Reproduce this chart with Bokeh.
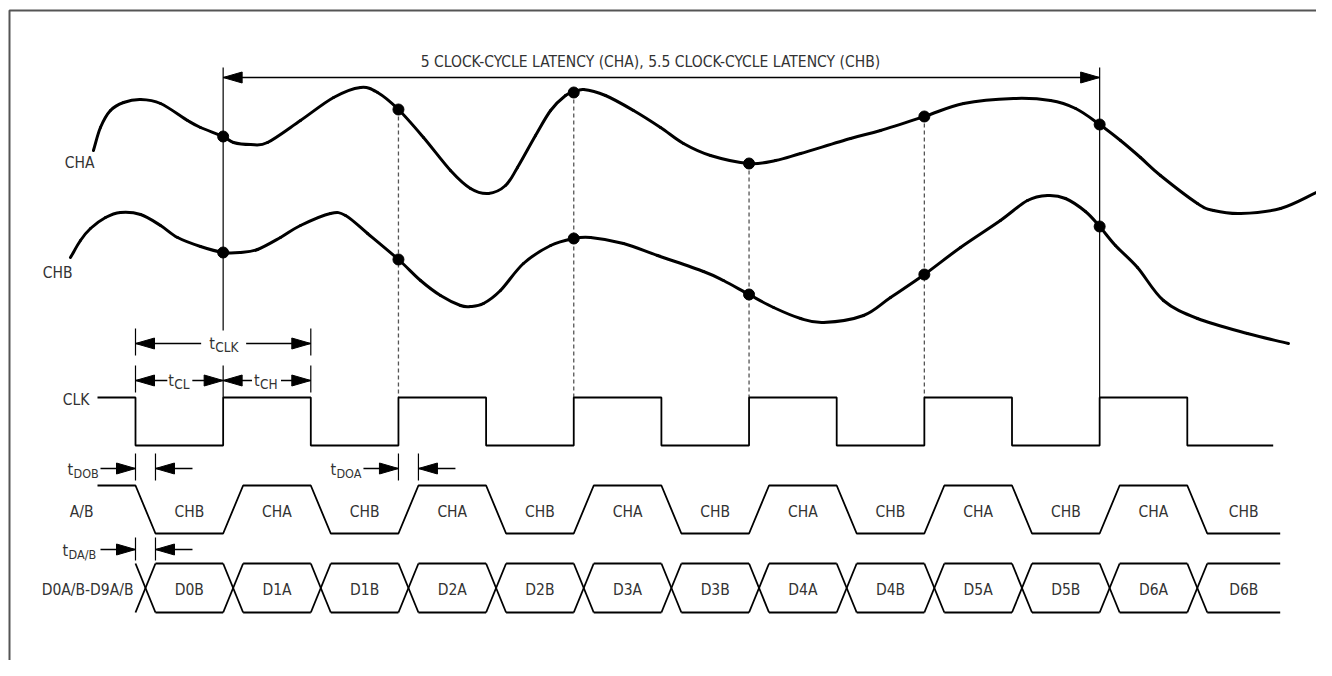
import numpy as np
from bokeh.plotting import figure
from bokeh.models import Range1d
from bokeh.core.properties import value
from bokeh.embed import file_html
from bokeh.resources import INLINE

# ---------------- data (time in clock cycles, t = 0 at first CLK falling edge) ----------------
CLK_EDGES = [0.0, 0.5, 1.0, 1.5, 2.0, 2.5, 3.0, 3.5, 4.0, 4.5, 5.0, 5.5, 6.0]
CLK_LEVELS = [0, 1, 0, 1, 0, 1, 0, 1, 0, 1, 0, 1, 0]          # level after each edge
SAMPLE_TIMES = [0.5, 1.5, 2.5, 3.5, 4.5, 5.5]                   # CLK rising edges (sampling instants)
AB_STATES = ["CHB", "CHA", "CHB", "CHA", "CHB", "CHA", "CHB", "CHA", "CHB", "CHA", "CHB", "CHA", "CHB"]
D_WORDS = ["D0B", "D1A", "D1B", "D2A", "D2B", "D3A", "D3B", "D4A", "D4B", "D5A", "D5B", "D6A", "D6B"]
T_DO = 0.114                                                    # output delay / transition time (cycles)
LATENCY_TEXT = "5 CLOCK-CYCLE LATENCY (CHA), 5.5 CLOCK-CYCLE LATENCY (CHB)"

CHA_T = [-0.240, -0.200, -0.143, -0.068, 0.029, 0.143, 0.297, 0.371, 0.5, 0.559,
         0.656, 0.753, 0.941, 1.130, 1.284, 1.381, 1.5, 1.643, 1.797, 1.911,
         2.014, 2.111, 2.179, 2.282, 2.368, 2.453, 2.5, 2.556, 2.681, 2.841,
         2.995, 3.126, 3.280, 3.5, 3.651, 3.794, 4.079, 4.250, 4.5, 4.724,
         5.009, 5.220, 5.363, 5.5, 5.619, 5.733, 5.847, 6.058, 6.150, 6.304,
         6.532, 6.749]
CHA_V = [0, 23, 40, 48, 51, 47, 30, 23, 14, 8,
         6, 8, 30, 53, 63, 58, 41, 13, -20, -38,
         -43, -35, -17, 15, 40, 55, 58, 61, 55, 40,
         23, 7, -5, -13, -10, -3, 12, 20, 34, 47,
         52, 50, 42, 26, 10, -7, -25, -53, -60, -63,
         -58, -41]
CHB_T = [-0.371, -0.314, -0.257, -0.171, -0.086, 0.029, 0.143, 0.240, 0.371, 0.5,
         0.599, 0.696, 0.827, 0.941, 1.112, 1.198, 1.324, 1.5, 1.626, 1.740,
         1.854, 1.911, 1.985, 2.082, 2.213, 2.368, 2.5, 2.596, 2.784, 2.978,
         3.240, 3.354, 3.5, 3.640, 3.794, 3.925, 4.153, 4.307, 4.5, 4.706,
         4.934, 5.088, 5.203, 5.305, 5.419, 5.5, 5.590, 5.716, 5.864, 6.058,
         6.343, 6.577]
CHB_V = [13, 30, 42, 53, 58, 56, 45, 33, 24, 18,
         18, 21, 33, 45, 57, 55, 37, 11, -10, -25,
         -35, -36, -33, -20, 7, 25, 32, 33, 27, 15,
         -1, -10, -24, -37, -48, -52, -45, -27, -4, 23,
         50, 70, 75, 72, 59, 44, 25, 3, -30, -48,
         -63, -73]

# ---------------- layout ----------------
W, H = 1316, 660
PPC = 175.3                   # pixels per clock cycle
X0 = -135 / PPC
X1 = X0 + W / PPC


def dx(px):
    return px / PPC


CHA_BASE, CHB_BASE = 150, 270
CLK_HI, CLK_LO = 397, 445
AB_HI, AB_LO = 485, 533
D_TOP, D_BOT = 563, 612
LAT_Y, TCLK_Y, TCLH_Y, TDO_Y, TDAB_Y = 77, 343, 380, 468, 549
WAVE_START = -dx(38)
CLK_END, ROW_END = 6.49, 6.53

FONT = value("'DejaVu Sans Condensed', 'Liberation Sans Narrow', sans-serif")
TXT = "#333333"
INK = "#000000"
LBL = "15.5px"

p = figure(width=W, height=H, output_backend="svg", toolbar_location=None,
           x_range=Range1d(X0, X1), y_range=Range1d(H, 0),
           min_border=0, outline_line_color=None,
           x_axis_location=None, y_axis_location=None, background_fill_color="white")
p.xgrid.visible = False
p.ygrid.visible = False


def txt(x, y, s, size=LBL, align="left", baseline="middle", xoff=0, color=TXT):
    p.text(x=[x], y=[y], text=[s], text_font=FONT, text_font_size=size, text_color=color,
           text_align=align, text_baseline=baseline, x_offset=xoff)


def tsub(x, y, sub, t_off, s_off, sub_size="13.5px", drop=3):
    txt(x, y, "t", size="16px", xoff=t_off)
    txt(x, y + drop, sub, size=sub_size, xoff=s_off)


HEAD_L, HEAD_W = dx(19), 5.5


def head(x, y, direction):
    s = 1 if direction == "left" else -1
    p.patch(x=[x, x + s * HEAD_L, x + s * HEAD_L], y=[y, y - HEAD_W, y + HEAD_W],
            fill_color=INK, line_color=INK, line_width=1)


def seg(x0, y0, x1, y1, width=1.5, color=INK, dash="solid"):
    p.segment(x0=[x0], y0=[y0], x1=[x1], y1=[y1], line_color=color, line_width=width, line_dash=dash)


def smooth(ts, ys):
    """Draw a smooth curve through the read points (Catmull-Rom rendered as cubic Beziers)."""
    t = np.asarray(ts, float)
    y = np.asarray(ys, float)
    tp = np.concatenate([[2 * t[0] - t[1]], t, [2 * t[-1] - t[-2]]])
    yp = np.concatenate([[2 * y[0] - y[1]], y, [2 * y[-1] - y[-2]]])
    i = np.arange(1, len(t))
    p.bezier(x0=tp[i], y0=yp[i], x1=tp[i + 1], y1=yp[i + 1],
             cx0=tp[i] + (tp[i + 1] - tp[i - 1]) / 6, cy0=yp[i] + (yp[i + 1] - yp[i - 1]) / 6,
             cx1=tp[i + 1] - (tp[i + 2] - tp[i]) / 6, cy1=yp[i + 1] - (yp[i + 2] - yp[i]) / 6,
             line_color=INK, line_width=3, line_cap="round")


# frame
p.line(x=[X0 + dx(9), X0 + dx(9), X1 + 1], y=[800, 10, 10], line_color="#555555", line_width=2)

# ---------------- analog inputs ----------------
cha_y = [CHA_BASE - v for v in CHA_V]
chb_y = [CHB_BASE - v for v in CHB_V]
smooth(CHA_T, cha_y)
smooth(CHB_T, chb_y)
txt(0, CHA_BASE + 12, "CHA", align="right", xoff=-41)
txt(0, CHB_BASE + 2, "CHB", align="right", xoff=-63)

cha_dot = CHA_BASE - np.interp(SAMPLE_TIMES, CHA_T, CHA_V)
chb_dot = CHB_BASE - np.interp(SAMPLE_TIMES, CHB_T, CHB_V)

# sampling-instant markers
first, last = SAMPLE_TIMES[0], SAMPLE_TIMES[-1]
seg(first, LAT_Y - 10, first, 330, width=1.2)
seg(first, 365, first, CLK_HI, width=1.2)
seg(last, LAT_Y - 10, last, CLK_HI, width=1.2)
for t, yd in zip(SAMPLE_TIMES[1:-1], cha_dot[1:-1]):
    seg(t, yd, t, CLK_HI, width=1.3, color="#555555", dash="4 3")

p.scatter(SAMPLE_TIMES, cha_dot, size=11, color=INK)
p.scatter(SAMPLE_TIMES, chb_dot, size=11, color=INK)

# latency dimension
seg(first, LAT_Y, last, LAT_Y, width=1.5)
head(first, LAT_Y, "left")
head(last, LAT_Y, "right")
txt((first + last) / 2, LAT_Y - 16, LATENCY_TEXT, align="center", xoff=-11)

# ---------------- CLK ----------------
xs, ys, prev = [WAVE_START], [CLK_HI], CLK_HI
for e, lv in zip(CLK_EDGES, CLK_LEVELS):
    y = CLK_HI if lv else CLK_LO
    xs += [e, e]
    ys += [prev, y]
    prev = y
xs.append(CLK_END)
ys.append(prev)
p.line(xs, ys, line_color=INK, line_width=1.8)
txt(0, CLK_HI + 2, "CLK", align="right", xoff=-46)

# tCLK / tCL / tCH dimensions
t0, mid, t1 = CLK_EDGES[0], CLK_EDGES[1], CLK_EDGES[2]
for x in (t0, t1):
    seg(x, 328, x, 355, width=1.2)
    seg(x, 365, x, 392, width=1.2)
seg(t0, TCLK_Y, mid - dx(22), TCLK_Y)
seg(mid + dx(23), TCLK_Y, t1, TCLK_Y)
head(t0, TCLK_Y, "left")
head(t1, TCLK_Y, "right")
tsub(mid, TCLK_Y, "CLK", -14, -8)

c1, c2 = (t0 + mid) / 2, (mid + t1) / 2
seg(t0, TCLH_Y, c1 - dx(12), TCLH_Y)
seg(c1 + dx(13), TCLH_Y, mid, TCLH_Y)
head(t0, TCLH_Y, "left")
head(mid, TCLH_Y, "right")
tsub(c1, TCLH_Y, "CL", -11, -5)
seg(mid, TCLH_Y, c2 - dx(15), TCLH_Y)
seg(c2 + dx(14), TCLH_Y, t1, TCLH_Y)
head(mid, TCLH_Y, "left")
head(t1, TCLH_Y, "right")
tsub(c2, TCLH_Y, "CH", -13, -7)


# tDO style dimensions
def delay_dim(e, y, sub, t_off, s_off, tick_top, tick_bot):
    seg(e - dx(35), y, e, y)
    head(e, y, "right")
    seg(e, tick_top, e, tick_bot, width=1.2)
    seg(e + T_DO, tick_top, e + T_DO, tick_bot, width=1.2)
    seg(e + T_DO, y, e + T_DO + dx(37), y)
    head(e + T_DO, y, "left")
    tsub(e, y + 1, sub, t_off, s_off, sub_size="12.5px", drop=4)


delay_dim(CLK_EDGES[0], TDO_Y, "DOB", -68, -62, 453, 480)
delay_dim(CLK_EDGES[3], TDO_Y, "DOA", -68, -62, 453, 480)
delay_dim(CLK_EDGES[0], TDAB_Y, "DA/B", -73, -67, 537, 560)

# ---------------- A/B ----------------
xs, ys, prev = [WAVE_START], [AB_HI], AB_HI
for e, s in zip(CLK_EDGES, AB_STATES):
    y = AB_HI if s == "CHA" else AB_LO
    xs += [e, e + T_DO]
    ys += [prev, y]
    prev = y
xs.append(ROW_END)
ys.append(prev)
p.line(xs, ys, line_color=INK, line_width=1.8)
txt(0, (AB_HI + AB_LO) / 2 + 2, "A/B", align="right", xoff=-42)

for k, s in enumerate(AB_STATES):
    left = CLK_EDGES[k] + T_DO
    right = CLK_EDGES[k + 1] if k + 1 < len(CLK_EDGES) else ROW_END
    txt((left + right) / 2, (AB_HI + AB_LO) / 2 + 2, s, align="center")

# ---------------- D0A/B-D9A/B ----------------
for k, wrd in enumerate(D_WORDS):
    e = CLK_EDGES[k]
    left = e + T_DO
    right = CLK_EDGES[k + 1] if k + 1 < len(CLK_EDGES) else ROW_END
    p.segment(x0=[e, e, left, left], y0=[D_TOP, D_BOT, D_TOP, D_BOT],
              x1=[left, left, right, right], y1=[D_BOT, D_TOP, D_TOP, D_BOT],
              line_color=INK, line_width=1.8)
    txt((left + right) / 2, (D_TOP + D_BOT) / 2 + 1.5, wrd, align="center")
txt(0, (D_TOP + D_BOT) / 2 + 1.5, "D0A/B-D9A/B", align="right", xoff=-2)

open("out.html", "w").write(file_html(p, INLINE))
